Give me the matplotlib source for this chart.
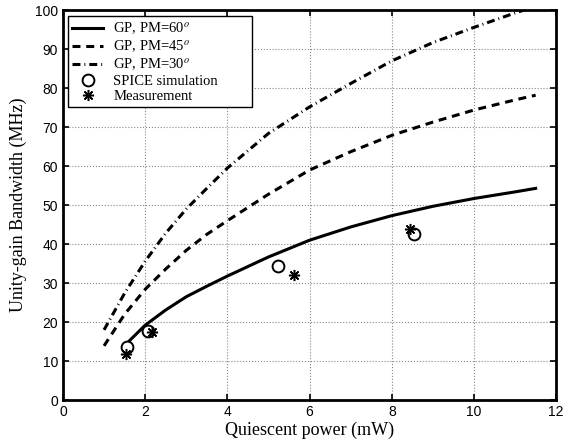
import numpy as np
import matplotlib
matplotlib.use('Agg')
import matplotlib.pyplot as plt

# curves
pm60_x = [1.55, 2.0, 2.5, 3.0, 3.5, 4.0, 5.0, 6.0, 7.0, 8.0, 9.0, 10.0, 11.0, 11.5]
pm60_y = [14.5, 19.2, 23.1, 26.5, 29.2, 31.8, 36.7, 41.0, 44.4, 47.3, 49.7, 51.7, 53.4, 54.3]

pm45_x = [1.0, 1.5, 2.0, 2.5, 3.0, 3.5, 4.0, 5.0, 6.0, 7.0, 8.0, 9.0, 10.0, 11.0, 11.5]
pm45_y = [13.9, 22.0, 28.4, 33.6, 38.4, 42.5, 46.0, 52.8, 59.0, 63.7, 67.9, 71.3, 74.4, 77.0, 78.2]

pm30_x = [1.0, 1.5, 2.0, 2.5, 3.0, 3.5, 4.0, 5.0, 6.0, 7.0, 8.0, 9.0, 10.0, 11.0, 11.5]
pm30_y = [18.0, 27.4, 35.6, 42.8, 49.0, 54.3, 59.5, 68.4, 75.2, 81.2, 87.0, 91.7, 95.6, 99.3, 101.0]

spice_x = [1.55, 2.08, 5.24, 8.53]
spice_y = [13.7, 17.7, 34.4, 42.7]

meas_x = [1.53, 2.16, 5.61, 8.45]
meas_y = [11.7, 17.5, 32.1, 44.0]

xticks = np.arange(0, 13, 2)
yticks = np.arange(0, 101, 10)

plt.rcParams['mathtext.fontset'] = 'stix'

fig = plt.figure(figsize=(5.67, 4.44), dpi=100)
ax = fig.add_axes([0.111, 0.099, 0.870, 0.878])

ax.plot(pm60_x, pm60_y, 'k-', lw=2.2, label='GP, PM=60$^o$')
ax.plot(pm45_x, pm45_y, 'k--', lw=2.2, dashes=(2.6, 1.9), label='GP, PM=45$^o$')
ax.plot(pm30_x, pm30_y, 'k-.', lw=2.2, dashes=(2.6, 1.3, 0.3, 1.3),
        label='GP, PM=30$^o$')
ax.plot(spice_x, spice_y, 'o', mfc='white', mec='k', mew=1.4, ms=8.5,
        label='SPICE simulation', zorder=4)
ax.plot(meas_x, meas_y, color='k', ls='none', ms=8, mew=1.1, label='Measurement',
        marker=(8, 2, 0), zorder=5)

ax.set_xlim(0, 12)
ax.set_ylim(0, 100)
ax.set_xticks(xticks)
ax.set_yticks(yticks)
ax.grid(True, ls=':', color='#888888', lw=0.8)
ax.tick_params(direction='in', top=True, right=True, length=4, width=1.2,
               labelsize=10)
for lab in ax.get_xticklabels() + ax.get_yticklabels():
    lab.set_family('Liberation Sans')
for sp in ax.spines.values():
    sp.set_linewidth(2.0)

ax.set_xlabel('Quiescent power (mW)', family='Liberation Serif', fontsize=13,
              labelpad=2)
ax.set_ylabel('Unity-gain Bandwidth (MHz)', family='Liberation Serif',
              fontsize=13, labelpad=6)

# legend box stretched to the width seen in the picture
leg = ax.legend(loc='upper left', bbox_to_anchor=(0.0101, 0, 0.373, 0.985),
                mode='expand', borderaxespad=0,
                prop={'family': 'Liberation Serif', 'size': 10.5},
                fancybox=False, framealpha=1, edgecolor='k',
                handlelength=2.1, handletextpad=0.7, labelspacing=0.12,
                borderpad=0.3)
leg.get_frame().set_linewidth(1.0)

fig.savefig('out.png', dpi=100)
